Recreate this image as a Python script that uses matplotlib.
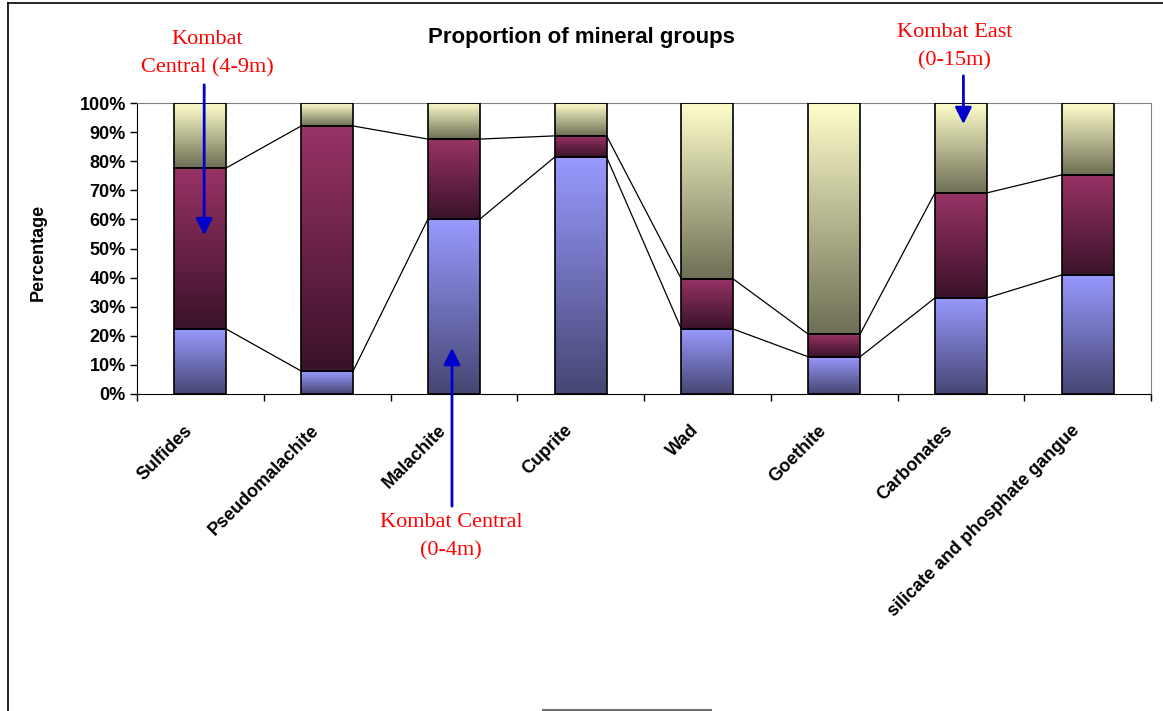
import numpy as np
import matplotlib.pyplot as plt
from matplotlib.lines import Line2D

# --- Data (percent of each mineral group) ---
categories = ["Sulfides", "Pseudomalachite", "Malachite", "Cuprite", "Wad",
              "Goethite", "Carbonates", "silicate and phosphate gangue"]
kombat_central_0_4 = [22.3, 7.9, 60.1, 81.4, 22.3, 12.8, 33.0, 40.9]
kombat_central_4_9 = [55.4, 84.2, 27.5, 7.3, 17.2, 7.8, 36.1, 34.4]
kombat_east_0_15 = [22.3, 7.9, 12.4, 11.3, 60.5, 79.4, 30.9, 24.7]

series = [kombat_central_0_4, kombat_central_4_9, kombat_east_0_15]
# gradient colours (top of segment, bottom of segment)
gradients = [("#9999FF", "#464673"), ("#993366", "#3A1229"), ("#FFFFCC", "#6E6E55")]

plt.rcParams['font.family'] = ['Liberation Sans', 'DejaVu Sans']

fig = plt.figure(figsize=(11.63, 7.11), dpi=100)
ax = fig.add_axes([137 / 1163, 1 - 394 / 711, 1014 / 1163, 291 / 711])

x = np.arange(len(categories))
width = 0.41
bottom = np.zeros(len(categories))
tops = []
for vals, (c_top, c_bot) in zip(series, gradients):
    bars = ax.bar(x, vals, width, bottom=bottom, facecolor='none',
                  edgecolor='black', linewidth=1.2, zorder=3)
    grad = np.linspace(0, 1, 256).reshape(-1, 1)
    cmap = plt.matplotlib.colors.LinearSegmentedColormap.from_list("g", [c_bot, c_top])
    for b in bars:
        x0, y0 = b.get_x(), b.get_y()
        im = ax.imshow(grad, cmap=cmap, origin='lower', aspect='auto',
                       extent=[x0, x0 + b.get_width(), y0, y0 + b.get_height()],
                       zorder=2)
        im.set_clip_path(b)
    bottom = bottom + np.array(vals)
    tops.append(bottom.copy())

# series lines between bars
for t in tops[:-1]:
    for i in range(len(categories) - 1):
        ax.plot([x[i] + width / 2, x[i + 1] - width / 2], [t[i], t[i + 1]],
                color='black', linewidth=0.9, zorder=1)

ax.set_xlim(-0.5, len(categories) - 0.5)
ax.set_ylim(0, 100)
ax.set_yticks(np.arange(0, 101, 10))
ax.set_yticklabels([f"{v}%" for v in range(0, 101, 10)], fontsize=13, fontweight='bold')
ax.set_xticks(np.arange(-0.5, len(categories) - 0.4, 1))
ax.set_xticklabels([])
ax.tick_params(axis='x', direction='out', length=5, width=1)
ax.tick_params(axis='y', direction='out', length=5, width=1, pad=3)
for i, name in enumerate(categories):
    ax.annotate(name, xy=(x[i], 0), xycoords=('data', 'axes fraction'),
                xytext=(-12, -20), textcoords='offset points', rotation=45,
                ha='right', va='top', rotation_mode='anchor',
                fontsize=13, fontweight='bold')
ax.spines['top'].set_color('#808080')
ax.spines['right'].set_color('#808080')
fig.text(38 / 1163, 1 - 252 / 711, "Percentage", rotation=90, ha='center', va='center',
         fontsize=13, fontweight='bold')
fig.text(581 / 1163, 1 - 38 / 711, "Proportion of mineral groups", ha='center', va='center',
         fontsize=16, fontweight='bold')

# annotations
serif = ['Liberation Serif', 'DejaVu Serif']
arrow = dict(arrowstyle='-|>', color='#0000CC', lw=2, mutation_scale=25)
ax.annotate("", xy=(0.03, 53.6), xytext=(0.03, 107.2), annotation_clip=False, arrowprops=arrow)
ax.text(0.052, 108.9, "Kombat\nCentral (4-9m)", color='red', family=serif, fontsize=16,
        ha='center', va='bottom', linespacing=1.62, clip_on=False)
ax.annotate("", xy=(1.985, 16.8), xytext=(1.985, -39.5), annotation_clip=False, arrowprops=arrow)
ax.text(1.98, -40.9, "Kombat Central\n(0-4m)", color='red', family=serif, fontsize=16,
        ha='center', va='top', linespacing=1.62, clip_on=False)
ax.annotate("", xy=(6.02, 91.8), xytext=(6.02, 110.3), annotation_clip=False, arrowprops=arrow)
ax.text(5.95, 111.2, "Kombat East\n(0-15m)", color='red', family=serif, fontsize=16,
        ha='center', va='bottom', linespacing=1.62, clip_on=False)

# outer frame
fig.add_artist(Line2D([8 / 1163, 8 / 1163], [0, 1 - 3 / 711], color='black', lw=1.2))
fig.add_artist(Line2D([8 / 1163, 1], [1 - 3 / 711, 1 - 3 / 711], color='black', lw=1.2))
fig.add_artist(Line2D([543 / 1163, 711 / 1163], [1 / 711, 1 / 711], color='#707070', lw=1.5))

plt.savefig("out.png", dpi=100)
